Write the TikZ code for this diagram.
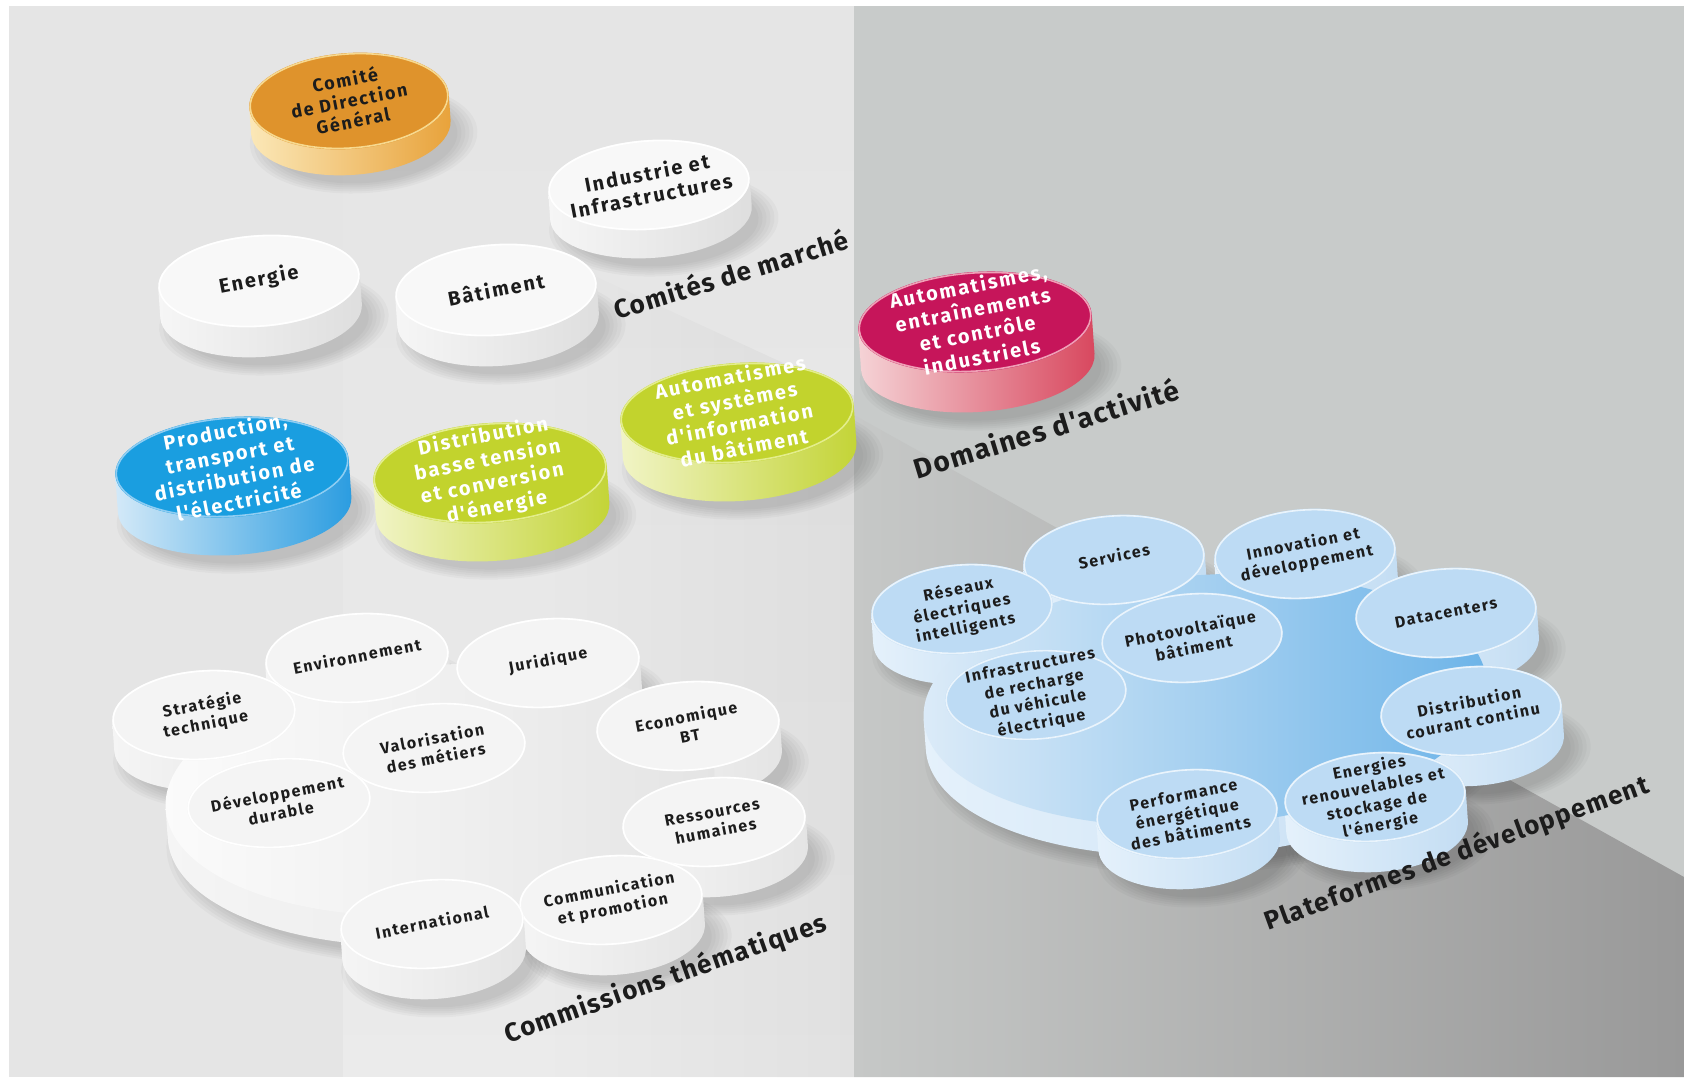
\documentclass[tikz,border=0pt]{standalone}
\usepackage{fontspec}
\usetikzlibrary{fadings}
\setmainfont{Fira Sans}
\newfontfamily\discfont[LetterSpace=10]{Fira Sans}
\newfontfamily\labelfont[LetterSpace=5]{Fira Sans}

% backdrop
\definecolor{bgL}{HTML}{E5E5E5}
\definecolor{bgR}{HTML}{C8CBCA}
\definecolor{floorL}{HTML}{C6C8C7}
\definecolor{floorR}{HTML}{999999}
\definecolor{ink}{HTML}{1C1C1C}
% single pucks
\definecolor{wface}{HTML}{F8F8F8}
\definecolor{wsideL}{HTML}{F6F6F6}
\definecolor{wsideR}{HTML}{DEDEDE}
\definecolor{oface}{HTML}{DF932C}
\definecolor{osideL}{HTML}{FBE8B8}
\definecolor{osideR}{HTML}{E8A23A}
\definecolor{orim}{HTML}{F7D98F}
\definecolor{bface}{HTML}{1A9EE0}
\definecolor{bsideL}{HTML}{D3E9F8}
\definecolor{bsideR}{HTML}{2A9CE0}
\definecolor{brim}{HTML}{8FCDF2}
\definecolor{gface}{HTML}{C2D32D}
\definecolor{gsideL}{HTML}{F1F4C6}
\definecolor{gsideR}{HTML}{C3D436}
\definecolor{grim}{HTML}{E3ED8C}
\definecolor{rface}{HTML}{C6155A}
\definecolor{rsideL}{HTML}{F5D3D6}
\definecolor{rsideR}{HTML}{D8475E}
\definecolor{rrim}{HTML}{EFA0B6}
% white slab
\definecolor{pface}{HTML}{F4F4F4}
\definecolor{ptopL}{HTML}{FBFBFB}
\definecolor{ptopR}{HTML}{E4E4E4}
\definecolor{psideL}{HTML}{F5F5F5}
\definecolor{psideR}{HTML}{E4E4E4}
% blue slab
\definecolor{lbface}{HTML}{BDDBF4}
\definecolor{lbtopL}{HTML}{DCEBF8}
\definecolor{lbtopR}{HTML}{6DB4E8}
\definecolor{lbsideL}{HTML}{E5F1FB}
\definecolor{lbsideR}{HTML}{C3DDF3}
\definecolor{lbrim}{HTML}{EAF4FC}

% fadings for the soft light column and the floor edge
\tikzfading[name=bandfade, top color=transparent!100, middle color=transparent!0,
  bottom color=transparent!0]
\tikzfading[name=floorfade, left color=transparent!100, right color=transparent!0]

% soft shadow under a round part: cx, cy, rx, ry, thickness
\newcommand{\softshadow}[5]{%
  \begin{scope}[shift={(#1,#2)},rotate=4]
    \foreach \k in {1,...,6}
      \fill[black,opacity=0.028] (12,#5+12) ellipse[x radius={#3+4*\k-10}, y radius={#4+2*\k-5}];
  \end{scope}}
% cylinder wall: cx, cy, rx, ry, thickness, left colour, right colour
\newcommand{\wall}[7]{%
  \begin{scope}[shift={(#1,#2)},rotate=4]
    \shade[left color=#6,right color=#7] (-#3,0) -- (-#3,#5)
      arc[start angle=180,end angle=0,x radius=#3,y radius=#4] -- (#3,0) -- cycle;
  \end{scope}}
% top face: cx, cy, rx, ry, fill, rim
\newcommand{\face}[6]{%
  \begin{scope}[shift={(#1,#2)},rotate=4]
    \fill[#5] (0,0) ellipse[x radius=#3,y radius=#4];
    \draw[#6,line width=1.6pt] (0,0) ellipse[x radius=#3-1,y radius=#4-1];
  \end{scope}}
% complete puck: cx, cy, rx, ry, thickness, face, wall left, wall right, rim
\newcommand{\puck}[9]{%
  \softshadow{#1}{#2}{#3}{#4}{#5}%
  \wall{#1}{#2}{#3}{#4}{#5}{#7}{#8}%
  \face{#1}{#2}{#3}{#4}{#6}{#9}}

\tikzset{
  bigtxt/.style={font=\discfont\bfseries\fontsize{20}{24}\selectfont, text=white,
    align=center, rotate=11, inner sep=0pt},
  midtxt/.style={font=\discfont\bfseries\fontsize{20}{23}\selectfont, text=ink,
    align=center, rotate=11, inner sep=0pt},
  smalltxt/.style={font=\discfont\bfseries\fontsize{16}{19.5}\selectfont, text=ink,
    align=center, rotate=11, inner sep=0pt},
  grouplabel/.style={font=\labelfont\bfseries\fontsize{26}{28}\selectfont, text=ink,
    inner sep=0pt},
}

\begin{document}
\begin{tikzpicture}[x=1pt,y=-1pt]
\useasboundingbox (0,0) rectangle (1684,1077);

% ---- backdrop ----
\fill[white] (0,0) rectangle (1684,1077);
\fill[bgL] (9,6) rectangle (854,1077);
\fill[white,opacity=0.24,path fading=bandfade] (343,6) rectangle (854,1077);
\fill[black,opacity=0.04,path fading=floorfade] (540,250) -- (854,395) -- (854,1077) -- (540,1077) -- cycle;
\fill[bgR] (854,6) rectangle (1684,1077);
\shade[left color=floorL,right color=floorR]
  (854,415) -- (1684,877) -- (1684,1077) -- (854,1077) -- cycle;

% ---- single pucks, back to front ----
\puck{349}{101}{100}{48}{26}{oface}{osideL}{osideR}{orim}
\puck{649}{185}{101}{45}{28}{wface}{wsideL}{wsideR}{white}
\puck{259}{281}{101}{46}{30}{wface}{wsideL}{wsideR}{white}
\puck{496}{290}{101}{46}{30}{wface}{wsideL}{wsideR}{white}
\puck{975}{322}{117}{50}{40}{rface}{rsideL}{rsideR}{rrim}
\puck{737}{413}{117}{50}{38}{gface}{gsideL}{gsideR}{grim}
\puck{232}{467}{117}{50}{38}{bface}{bsideL}{bsideR}{brim}
\puck{490}{473}{117}{50}{38}{gface}{gsideL}{gsideR}{grim}

\node[midtxt,font=\discfont\bfseries\fontsize{18}{21}\selectfont] (cdg) at (349,100) {Comité\\de Direction\\Général};
\node[midtxt] (indus) at (649,184) {Industrie et\\Infrastructures};
\node[midtxt] (energie) at (259,280) {Energie};
\node[midtxt] (batiment) at (496,289) {Bâtiment};
\node[bigtxt] (autoind) at (975,321) {Automatismes,\\entraînements\\et contrôle\\industriels};
\node[bigtxt] (autobat) at (737,412) {Automatismes\\et systèmes\\d'information\\du bâtiment};
\node[bigtxt] (prod) at (232,466) {Production,\\transport et\\distribution de\\l'électricité};
\node[bigtxt] (distbt) at (490,472) {Distribution\\basse tension\\et conversion\\d'énergie};

% ---- white slab: thematic commissions ----
\softshadow{440}{790}{275}{125}{30}
\foreach \x/\y in {357/658,548/663,204/715,688/726,714/822,611/900,432/924}
  \softshadow{\x}{\y}{92}{45}{30};
\wall{440}{790}{275}{125}{30}{psideL}{psideR}
\foreach \x/\y in {357/658,548/663,204/715,688/726,714/822,611/900,432/924}
  \wall{\x}{\y}{92}{45}{30}{psideL}{psideR};
\begin{scope}[shift={(440,790)},rotate=4]
  \shade[left color=ptopL,right color=ptopR] (0,0) ellipse[x radius=275,y radius=125];
\end{scope}
\foreach \x/\y in {357/658,548/663,204/715,688/726,714/822,611/900,432/924,434/748,279/803}
  \face{\x}{\y}{92}{45}{pface}{white};

\node[smalltxt] (strat) at (204,715) {Stratégie\\technique};
\node[smalltxt] (envir) at (357,656) {Environnement};
\node[smalltxt] (jurid) at (548,661) {Juridique};
\node[smalltxt] (econ) at (688,726) {Economique\\BT};
\node[smalltxt] (rh) at (714,822) {Ressources\\humaines};
\node[smalltxt] (comm) at (611,900) {Communication\\et promotion};
\node[smalltxt] (inter) at (432,922) {International};
\node[smalltxt] (valor) at (434,748) {Valorisation\\des métiers};
\node[smalltxt] (devdur) at (279,803) {Développement\\durable};

% ---- blue slab: development platforms ----
\softshadow{1205}{700}{282}{125}{30}
\foreach \x/\y in {1114/560,1305/554,962/609,1446/613,1471/711,1375/797,1187/814}
  \softshadow{\x}{\y}{91}{45}{30};
\wall{1205}{700}{282}{125}{30}{lbsideL}{lbsideR}
\foreach \x/\y in {1114/560,1305/554,962/609,1446/613,1471/711,1375/797,1187/814}
  \wall{\x}{\y}{91}{45}{30}{lbsideL}{lbsideR};
\begin{scope}[shift={(1205,700)},rotate=4]
  \shade[left color=lbtopL,right color=lbtopR] (0,0) ellipse[x radius=282,y radius=125];
\end{scope}
\foreach \x/\y in {1114/560,1305/554,962/609,1446/613,1471/711,1375/797,1187/814,1192/638,1036/695}
  \face{\x}{\y}{91}{45}{lbface}{lbrim};

\node[smalltxt] (reseaux) at (962,609) {Réseaux\\électriques\\intelligents};
\node[smalltxt] (services) at (1114,556) {Services};
\node[smalltxt] (innov) at (1305,554) {Innovation et\\développement};
\node[smalltxt] (datac) at (1446,613) {Datacenters};
\node[smalltxt] (dcc) at (1471,711) {Distribution\\courant continu};
\node[smalltxt] (enr) at (1375,797) {Energies\\renouvelables et\\stockage de\\l'énergie};
\node[smalltxt] (perf) at (1187,814) {Performance\\énergétique\\des bâtiments};
\node[smalltxt] (photov) at (1192,638) {Photovoltaïque\\bâtiment};
\node[smalltxt] (irve) at (1036,695) {Infrastructures\\de recharge\\du véhicule\\électrique};

% ---- group captions ----
\node[grouplabel,rotate=17] (lblmarche) at (731,274) {Comités de marché};
\node[grouplabel,rotate=17,font=\labelfont\bfseries\fontsize{28}{30}\selectfont] (lbldomaines) at (1046,428) {Domaines d'activité};
\node[grouplabel,rotate=19.5] (lblcommissions) at (666,979) {Commissions thématiques};
\node[grouplabel,rotate=20] (lblplateformes) at (1457,854) {Plateformes de développement};
\end{tikzpicture}
\end{document}
